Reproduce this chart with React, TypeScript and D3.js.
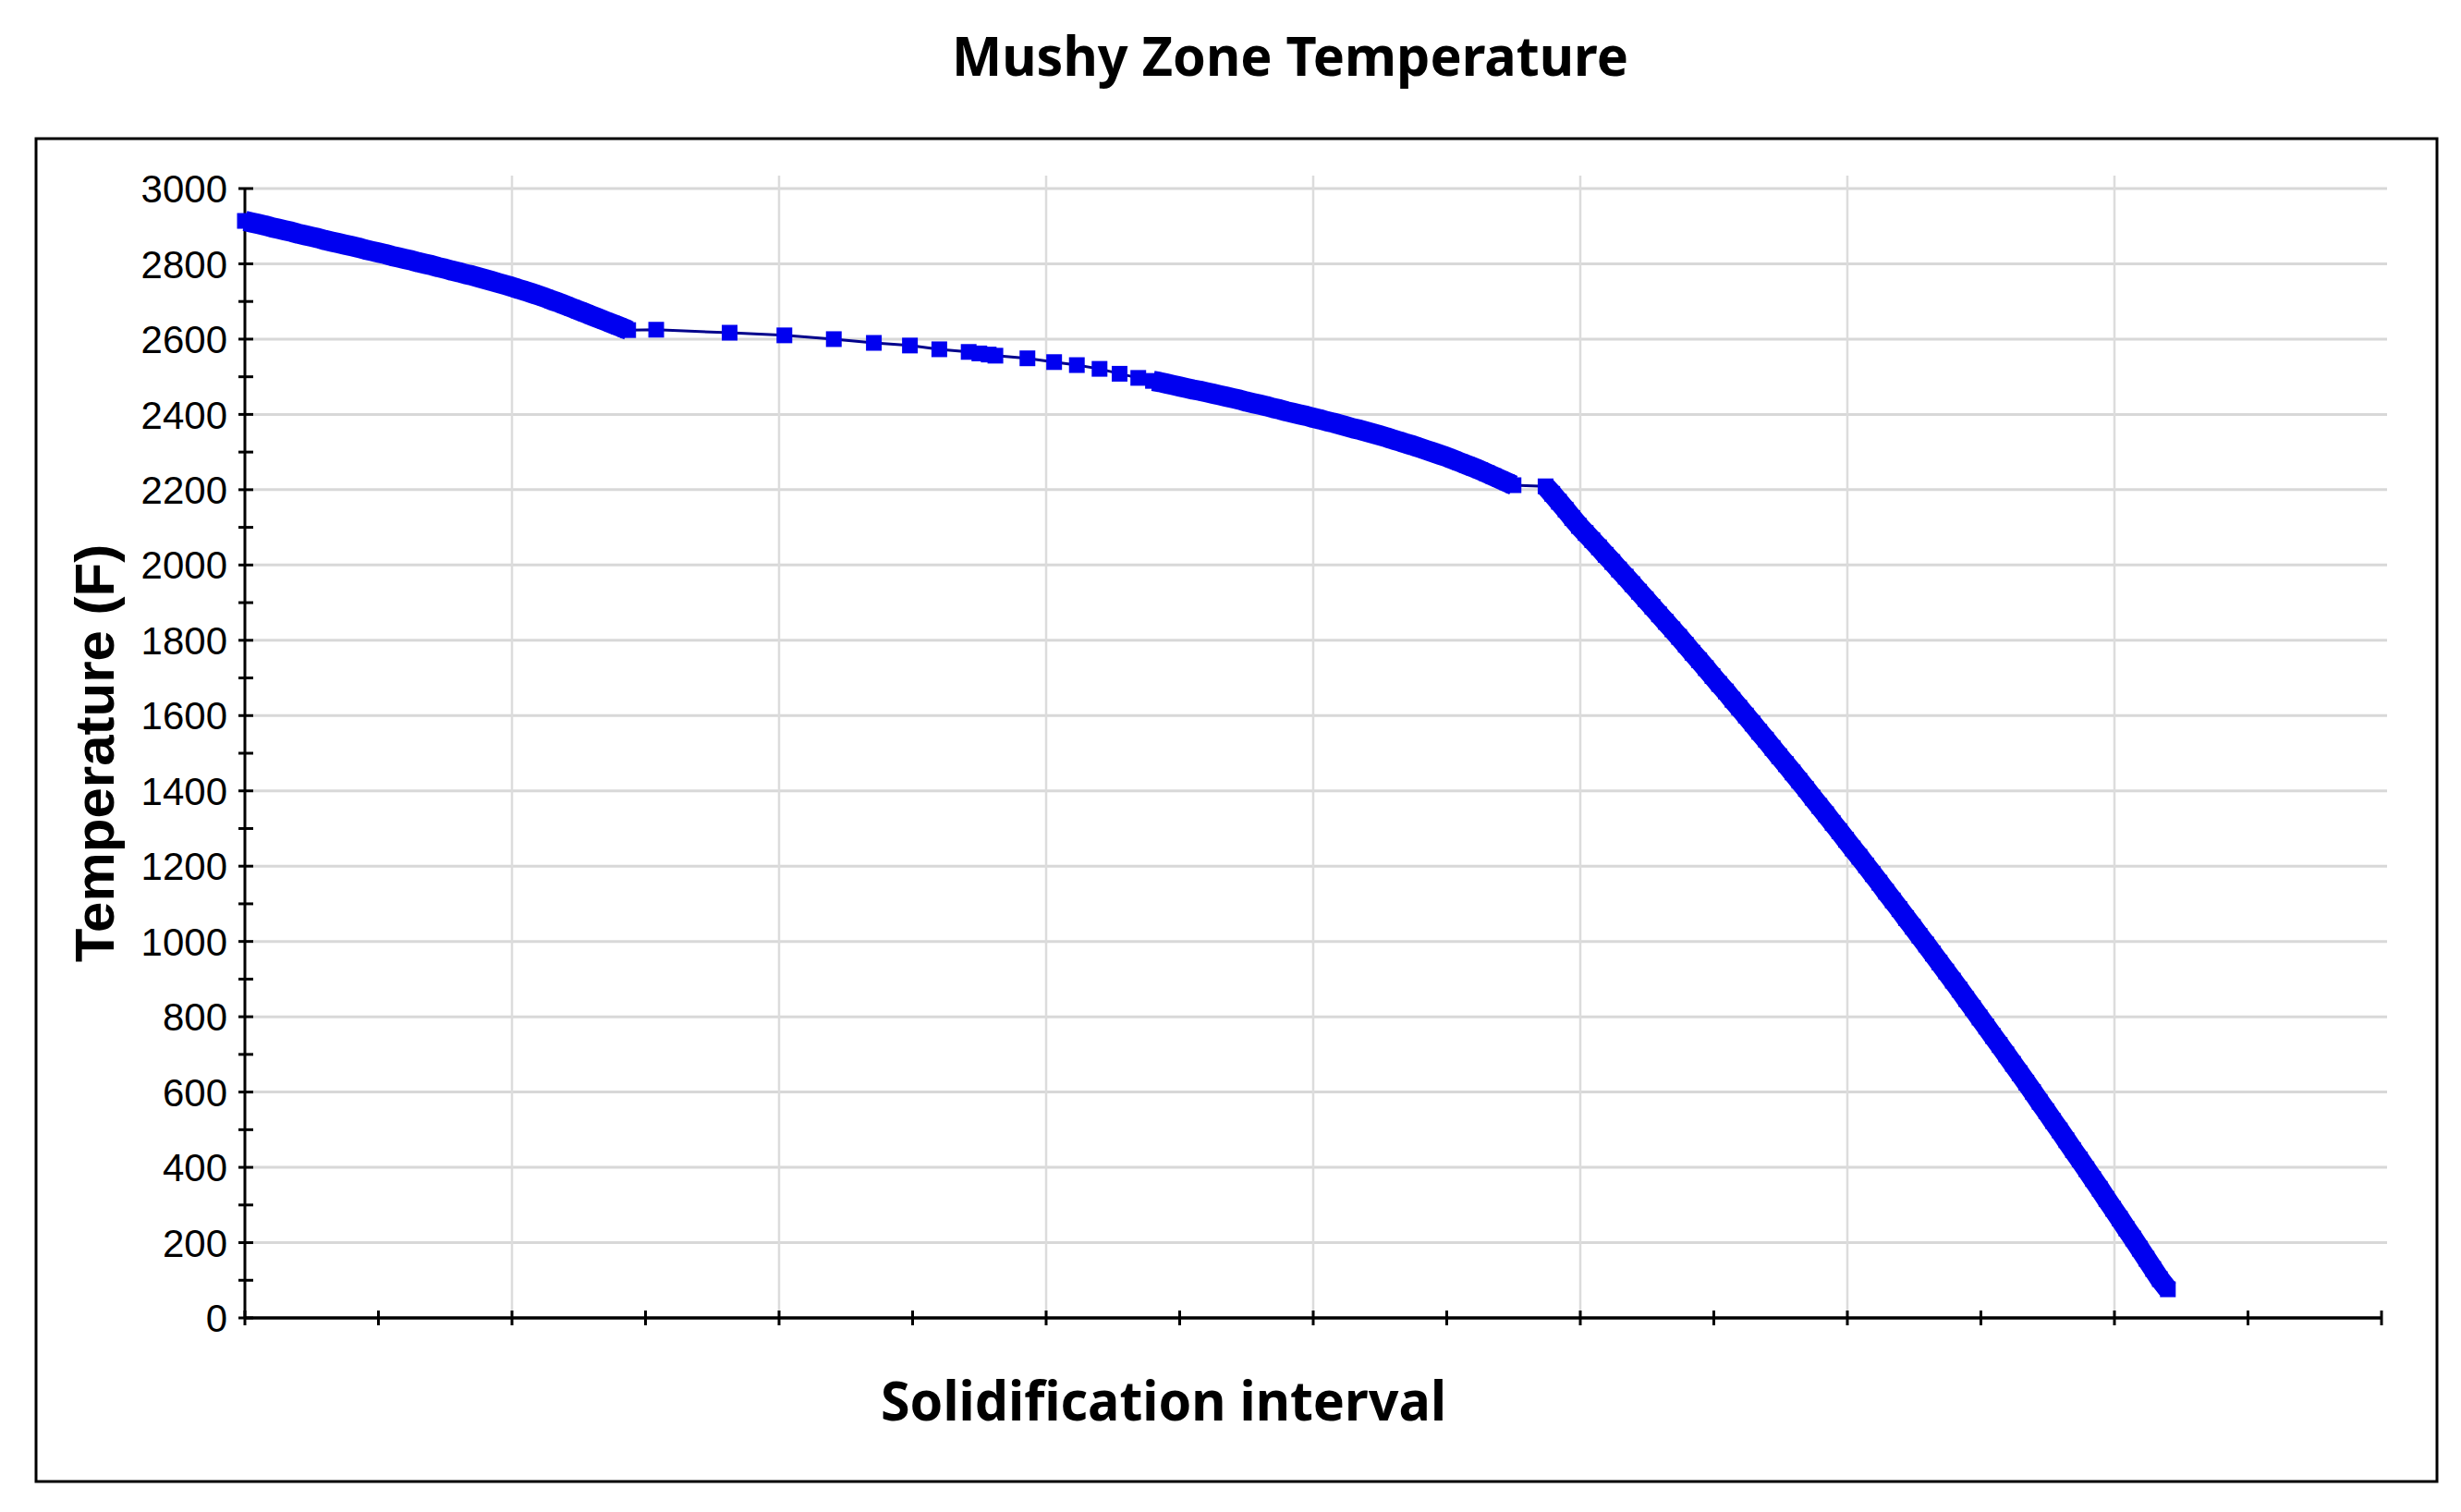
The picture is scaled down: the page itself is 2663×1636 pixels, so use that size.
import React from 'react';
import * as d3 from 'd3';

const W = 2663;
const H = 1636;

const TITLE = 'Mushy Zone Temperature';
const X_LABEL = 'Solidification interval';
const Y_LABEL = 'Temperature (F)';

const X_DOMAIN: [number, number] = [0, 16];
const Y_DOMAIN: [number, number] = [0, 3000];

// [solidification interval, temperature (F)]
const liquidusRamp: [number, number][] = [
  [0.0, 2914], [0.05, 2910], [0.1, 2906], [0.15, 2902], [0.2, 2897], [0.25, 2893],
  [0.3, 2889], [0.35, 2885], [0.4, 2880], [0.45, 2876], [0.5, 2872], [0.55, 2868],
  [0.6, 2863], [0.65, 2859], [0.7, 2855], [0.75, 2851], [0.8, 2847], [0.85, 2843],
  [0.9, 2838], [0.95, 2834], [1.0, 2830], [1.05, 2826], [1.1, 2821], [1.15, 2817],
  [1.2, 2813], [1.25, 2809], [1.3, 2804], [1.35, 2800], [1.4, 2796], [1.45, 2791],
  [1.5, 2787], [1.55, 2782], [1.6, 2778], [1.65, 2773], [1.7, 2769], [1.75, 2764],
  [1.8, 2759], [1.85, 2754], [1.9, 2749], [1.95, 2744], [2.0, 2739], [2.05, 2733],
  [2.1, 2728], [2.15, 2722], [2.2, 2716], [2.25, 2710], [2.3, 2703], [2.35, 2697],
  [2.4, 2690], [2.45, 2683], [2.5, 2676], [2.55, 2669], [2.6, 2662], [2.65, 2655],
  [2.7, 2648], [2.75, 2641], [2.8, 2634], [2.85, 2627], [2.87, 2624],
];

const sparseShelf: [number, number][] = [
  [3.08, 2625], [3.63, 2617], [4.04, 2610], [4.41, 2600], [4.71, 2590], [4.98, 2583],
  [5.2, 2573], [5.42, 2566], [5.5, 2562], [5.57, 2559], [5.62, 2556], [5.86, 2549],
  [6.06, 2539], [6.23, 2531], [6.4, 2521], [6.55, 2508], [6.69, 2497],
];

const mushyBend: [number, number][] = [
  [6.8, 2489], [6.85, 2486], [6.9, 2482], [6.95, 2478], [7.0, 2474], [7.05, 2470],
  [7.1, 2466], [7.15, 2463], [7.2, 2459], [7.25, 2455], [7.3, 2451], [7.35, 2447],
  [7.4, 2443], [7.45, 2439], [7.5, 2434], [7.55, 2430], [7.6, 2426], [7.65, 2422],
  [7.7, 2417], [7.75, 2413], [7.8, 2408], [7.85, 2404], [7.9, 2400], [7.95, 2396],
  [8.0, 2391], [8.05, 2387], [8.1, 2382], [8.15, 2378], [8.2, 2373], [8.25, 2368],
  [8.3, 2363], [8.35, 2359], [8.4, 2354], [8.45, 2349], [8.5, 2344], [8.55, 2339],
  [8.6, 2333], [8.65, 2328], [8.7, 2322], [8.75, 2317], [8.8, 2311], [8.85, 2305],
  [8.9, 2299], [8.95, 2293], [9.0, 2287], [9.05, 2280], [9.1, 2273], [9.15, 2266],
  [9.2, 2259], [9.25, 2252], [9.3, 2244], [9.35, 2236], [9.4, 2228], [9.45, 2220],
  [9.5, 2212],
];

const solidusDrop: [number, number][] = [
  [9.74, 2209], [9.79, 2189], [9.84, 2168], [9.89, 2147], [9.94, 2125], [9.99, 2104],
  [10.04, 2085], [10.09, 2066], [10.14, 2047], [10.19, 2027], [10.24, 2008],
  [10.29, 1988], [10.34, 1969], [10.39, 1949], [10.44, 1929], [10.49, 1909],
  [10.54, 1889], [10.59, 1869], [10.64, 1849], [10.69, 1829], [10.74, 1809],
  [10.79, 1788], [10.84, 1767], [10.89, 1747], [10.94, 1726], [10.99, 1705],
  [11.04, 1684], [11.09, 1664], [11.14, 1642], [11.19, 1621], [11.24, 1600],
  [11.29, 1579], [11.34, 1557], [11.39, 1536], [11.44, 1514], [11.49, 1492],
  [11.54, 1471], [11.59, 1449], [11.64, 1427], [11.69, 1405], [11.74, 1382],
  [11.79, 1360], [11.84, 1338], [11.89, 1315], [11.94, 1293], [11.99, 1270],
  [12.04, 1247], [12.09, 1225], [12.14, 1202], [12.19, 1179], [12.24, 1156],
  [12.29, 1132], [12.34, 1109], [12.39, 1086], [12.44, 1062], [12.49, 1039],
  [12.54, 1015], [12.59, 992], [12.64, 968], [12.69, 944], [12.74, 920],
  [12.79, 896], [12.84, 872], [12.89, 847], [12.94, 823], [12.99, 798],
  [13.04, 774], [13.09, 749], [13.14, 725], [13.19, 700], [13.24, 675],
  [13.29, 650], [13.34, 625], [13.39, 600], [13.44, 574], [13.49, 549],
  [13.54, 523], [13.59, 498], [13.64, 472], [13.69, 446], [13.74, 421],
  [13.79, 395], [13.84, 369], [13.89, 343], [13.94, 316], [13.99, 290],
  [14.04, 264], [14.09, 237], [14.14, 211], [14.19, 184], [14.24, 157],
  [14.29, 130], [14.34, 103], [14.4, 76],
];

const denseRuns = [liquidusRamp, mushyBend, solidusDrop];

const series: [number, number][] = [
  ...liquidusRamp,
  ...sparseShelf,
  ...mushyBend,
  ...solidusDrop,
];

const M = { left: 265, right: 2577, top: 204, bottom: 1426 };
const FRAME = { x: 39, y: 150, w: 2598, h: 1453 };

export default function App() {
  const x = d3.scaleLinear().domain(X_DOMAIN).range([M.left, M.right]);
  const y = d3.scaleLinear().domain(Y_DOMAIN).range([M.bottom, M.top]);

  const yMinor = y.ticks(30); // every 100
  const yMajor = y.ticks(15); // every 200
  const xMinor = x.ticks(16); // every 1
  const xGrid = xMinor.filter((v) => v > 0 && v < 16 && v % 2 === 0);

  const line = d3
    .line<[number, number]>()
    .x((d) => x(d[0]))
    .y((d) => y(d[1]));

  const MS = 17;
  const BLUE = '#0000f0';

  return (
    <svg
      width={W}
      height={H}
      viewBox={`0 0 ${W} ${H}`}
      style={{ position: 'absolute', left: 0, top: 0, background: '#fff' }}
    >
      <rect x={0} y={0} width={W} height={H} fill="#fff" />
      <text
        x={1396}
        y={82}
        textAnchor="middle"
        fontFamily="'Noto Sans', 'Open Sans', sans-serif"
        fontWeight={700}
        fontSize={60}
        textLength={732}
        lengthAdjust="spacingAndGlyphs"
        fill="#000"
      >
        {TITLE}
      </text>

      <rect
        x={FRAME.x}
        y={FRAME.y}
        width={FRAME.w}
        height={FRAME.h}
        fill="#fff"
        stroke="#000"
        strokeWidth={3}
      />

      {/* horizontal grid */}
      {yMajor
        .filter((v) => v > 0)
        .map((v) => (
          <line
            key={'hg' + v}
            x1={M.left + 9}
            x2={M.right + 6}
            y1={y(v)}
            y2={y(v)}
            stroke="#d8d8d8"
            strokeWidth={3}
          />
        ))}
      {/* vertical grid */}
      {xGrid.map((v) => (
        <line
          key={'vg' + v}
          x1={x(v)}
          x2={x(v)}
          y1={M.top - 14}
          y2={M.bottom - 3}
          stroke="#dcdcdc"
          strokeWidth={2.5}
        />
      ))}

      {/* y axis */}
      <line x1={M.left} x2={M.left} y1={M.top} y2={M.bottom} stroke="#000" strokeWidth={3} />
      {yMinor.map((v) => (
        <line
          key={'yt' + v}
          x1={M.left - 7}
          x2={M.left + 9}
          y1={y(v)}
          y2={y(v)}
          stroke="#000"
          strokeWidth={3}
        />
      ))}
      {yMajor.map((v) => (
        <text
          key={'yl' + v}
          x={M.left - 19}
          y={y(v)}
          dy="0.36em"
          textAnchor="end"
          fontFamily="'Liberation Sans', Arial, sans-serif"
          fontSize={42}
          fill="#000"
        >
          {v}
        </text>
      ))}

      {/* x axis */}
      <line x1={M.left} x2={M.right} y1={M.bottom} y2={M.bottom} stroke="#000" strokeWidth={3.5} />
      {xMinor.map((v) => (
        <line
          key={'xt' + v}
          x1={x(v)}
          x2={x(v)}
          y1={M.bottom - 8}
          y2={M.bottom + 8}
          stroke="#000"
          strokeWidth={3}
        />
      ))}

      {/* series: thin connecting line */}
      <path d={line(series) ?? ''} fill="none" stroke="#00008c" strokeWidth={3} />
      {/* densely packed markers merge into a solid band */}
      {denseRuns.map((run, i) => (
        <path
          key={'band' + i}
          d={line(run) ?? ''}
          fill="none"
          stroke={BLUE}
          strokeWidth={22}
          strokeLinejoin="round"
          strokeLinecap="butt"
        />
      ))}
      {series.map((d, i) => (
        <rect
          key={'m' + i}
          x={x(d[0]) - MS / 2}
          y={y(d[1]) - MS / 2}
          width={MS}
          height={MS}
          fill={BLUE}
        />
      ))}

      <text
        x={1259}
        y={1537}
        textAnchor="middle"
        fontFamily="'Noto Sans', 'Open Sans', sans-serif"
        fontWeight={700}
        fontSize={60}
        textLength={612}
        lengthAdjust="spacingAndGlyphs"
        fill="#000"
      >
        {X_LABEL}
      </text>

      <text
        transform="translate(123,815) rotate(-90)"
        textAnchor="middle"
        fontFamily="'Liberation Sans', Arial, sans-serif"
        fontWeight={700}
        fontSize={60}
        fill="#000"
      >
        {Y_LABEL}
      </text>
    </svg>
  );
}
